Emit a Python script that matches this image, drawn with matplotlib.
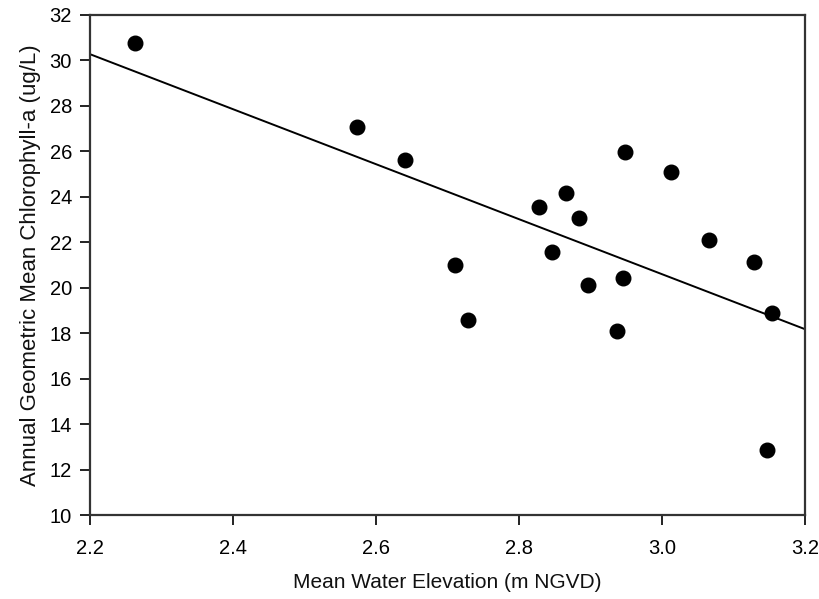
import numpy as np
import matplotlib
matplotlib.use('Agg')
import matplotlib.pyplot as plt

plt.rcParams['font.family'] = ['Liberation Sans', 'DejaVu Sans']

# mean water elevation (m NGVD) and annual geometric mean chlorophyll-a (ug/L)
elevation = [2.263, 2.574, 2.641, 2.710, 2.729, 2.828, 2.846, 2.865, 2.884, 2.896,
             2.937, 2.945, 2.948, 3.012, 3.066, 3.128, 3.147, 3.154]
chla = [30.78, 27.06, 25.64, 21.00, 18.58, 23.55, 21.56, 24.15, 23.08, 20.11,
        18.11, 20.43, 25.99, 25.09, 22.12, 21.13, 12.85, 18.88]

x_ticks = [2.2, 2.4, 2.6, 2.8, 3.0, 3.2]
y_ticks = list(range(10, 33, 2))

fig = plt.figure(figsize=(8.19, 5.99), dpi=100)
ax = fig.add_axes([0.11, 0.14, 0.873, 0.835])

ax.scatter(elevation, chla, s=110, color='black', zorder=3)

# linear regression line across the full x range
slope, intercept = np.polyfit(elevation, chla, 1)
xs = np.array([2.2, 3.2])
ax.plot(xs, slope * xs + intercept, color='black', linewidth=1.4)

ax.set_xlim(2.2, 3.2)
ax.set_ylim(10, 32)
ax.set_xticks(x_ticks)
ax.set_xticklabels(['%.1f' % v for v in x_ticks])
ax.set_yticks(y_ticks)
ax.tick_params(direction='out', length=7, width=1.4, labelsize=14.5, color='#222222')
ax.tick_params(axis='x', pad=10)
ax.tick_params(axis='y', pad=6)
for sp in ax.spines.values():
    sp.set_linewidth(1.6)
    sp.set_color('#333333')

ax.set_xlabel('Mean Water Elevation (m NGVD)', fontsize=15, labelpad=11, color='#111111')
ax.set_ylabel('Annual Geometric Mean Chlorophyll-a (ug/L)', fontsize=16, labelpad=6, color='#111111')

fig.savefig('out.png', dpi=100)
